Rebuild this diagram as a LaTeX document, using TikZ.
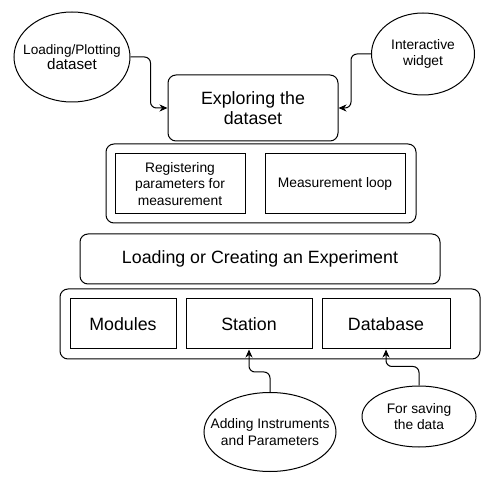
\documentclass[tikz,border=0pt]{standalone}
\usepackage{fontspec}
\setmainfont{Liberation Sans}
\usetikzlibrary{shapes.geometric,arrows.meta}
\begin{document}
\begin{tikzpicture}[x=1pt,y=-1pt,
  box/.style={draw, line width=1pt, rounded corners=8pt, inner sep=0pt},
  inbox/.style={draw, line width=1pt, inner sep=0pt},
  ell/.style={draw, ellipse, line width=1pt, inner sep=0pt},
  small/.style={font=\fontsize{13.8}{16.6}\selectfont, align=center, inner sep=0pt},
  big/.style={font=\fontsize{17.8}{20.7}\selectfont, align=center},
  conn/.style={line width=1pt, rounded corners=6pt, -{Stealth[length=8pt,width=7pt,inset=2.5pt]}}]
\useasboundingbox (0,0) rectangle (496,481);

% top
\node[box, minimum width=170pt, minimum height=66pt, big] (ex) at (253,108) {Exploring the\\dataset};
\node[ell, minimum width=116pt, minimum height=90pt] (lp) at (72,57) {};
\node[align=center, inner sep=0pt] (lpt) at (72,57) {\fontsize{13.6}{16}\selectfont Loading/Plotting\\\fontsize{15.2}{16}\selectfont dataset};
\node[ell, minimum width=103pt, minimum height=82pt] (iw) at (423,54) {};
\node[small] (iwt) at (423,54) {Interactive\\widget};

% second layer
\node[box, minimum width=310pt, minimum height=79pt] (c2) at (261,183.5) {};
\node[inbox, minimum width=130pt, minimum height=60pt, small] (rg) at (180,184) {Registering\\parameters for\\measurement};
\node[inbox, minimum width=140pt, minimum height=60pt, small] (ml) at (335,184) {Measurement loop};

% experiment
\node[box, minimum width=360pt, minimum height=50pt, big] (le) at (260,259) {Loading or Creating an Experiment};

% bottom layer
\node[box, minimum width=420pt, minimum height=70pt] (c3) at (270,324) {};
\node[inbox, minimum width=106pt, minimum height=50pt, big] (mo) at (123,324) {Modules};
\node[inbox, minimum width=126pt, minimum height=50pt, big] (st) at (249,324) {Station};
\node[inbox, minimum width=128pt, minimum height=50pt, big] (db) at (386,324) {Database};

\node[ell, minimum width=132pt, minimum height=79pt] (ai) at (270,432) {};
\node[small] (ait) at (270,432) {Adding Instruments\\and Parameters};
\node[ell, minimum width=114pt, minimum height=61pt] (fs) at (419,416.5) {};
\node[small] (fst) at (419,416.5) {For saving\\the data};

% connectors
\draw[conn] (lp.east) -- ++(20,0) |- (ex.west);
\draw[conn] (iw.west) -- ++(-20,0) |- (ex.east);
\draw[conn] (ai.north) -- ++(0,-20) -| (st.south);
\draw[conn] (fs.north) -- ++(0,-19) -| (db.south);
\end{tikzpicture}
\end{document}
